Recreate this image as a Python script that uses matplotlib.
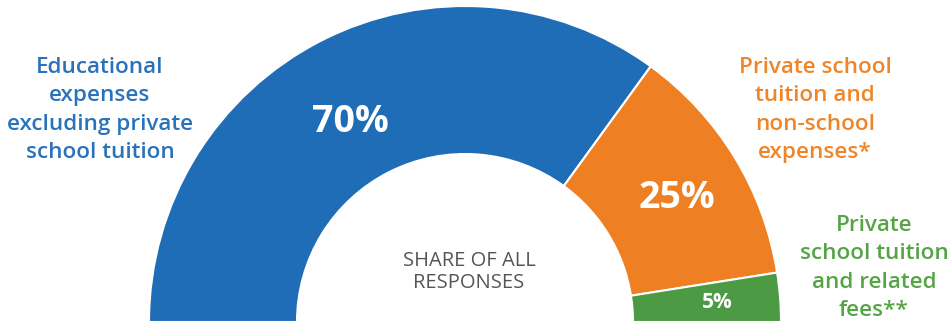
import matplotlib
matplotlib.use("Agg")
import matplotlib.pyplot as plt

categories = ["Educational\nexpenses\nexcluding private\nschool tuition",
              "Private school\ntuition and\nnon-school\nexpenses*",
              "Private\nschool tuition\nand related\nfees**"]
values = [70, 25, 5]
pct_labels = ["70%", "25%", "5%"]
center_label = "SHARE OF ALL\nRESPONSES"

seg_colors = ["#1f6db6", "#ee7f23", "#4c9b44"]
text_colors = ["#2a73ba", "#ef8529", "#55a446"]

W, H = 948, 324
fig = plt.figure(figsize=(W / 100, H / 100), dpi=100)
ax = fig.add_axes([0, 0, 1, 1])

cx, cy = 465, 2
R, width = 316, 148
total = sum(values)
wedges, _ = ax.pie(values + [total], colors=seg_colors + ["none"],
                   startangle=180, counterclock=False,
                   center=(cx, cy), radius=R,
                   wedgeprops=dict(width=width, edgecolor="white", linewidth=1.5))
wedges[-1].set_edgecolor("none")

ax.set_xlim(0, W)
ax.set_ylim(0, H)
ax.set_aspect("equal")
ax.axis("off")

fam = ["Open Sans", "DejaVu Sans"]

# percentage labels
ax.text(350, H - 122, pct_labels[0], color="white", fontsize=27, fontweight="bold",
        ha="center", va="center", family=fam)
ax.text(677, H - 198, pct_labels[1], color="white", fontsize=27, fontweight="bold",
        ha="center", va="center", family=fam)
ax.text(717, H - 302, pct_labels[2], color="white", fontsize=15, fontweight="bold",
        ha="center", va="center", family=fam)

# category labels
lab_kw = dict(fontsize=16.2, ha="center", va="center", linespacing=1.47,
              family=fam, fontweight="semibold")
ax.text(100, H - 110, categories[0], color=text_colors[0], **lab_kw)
ax.text(815, H - 110, categories[1], color=text_colors[1], **lab_kw)
ax.text(874, H - 268, categories[2], color=text_colors[2], **lab_kw)

ax.text(469, H - 272, center_label, color="#555555", fontsize=14.5,
        ha="center", va="center", linespacing=1.2, family=fam)

fig.savefig("out.png", dpi=100)
